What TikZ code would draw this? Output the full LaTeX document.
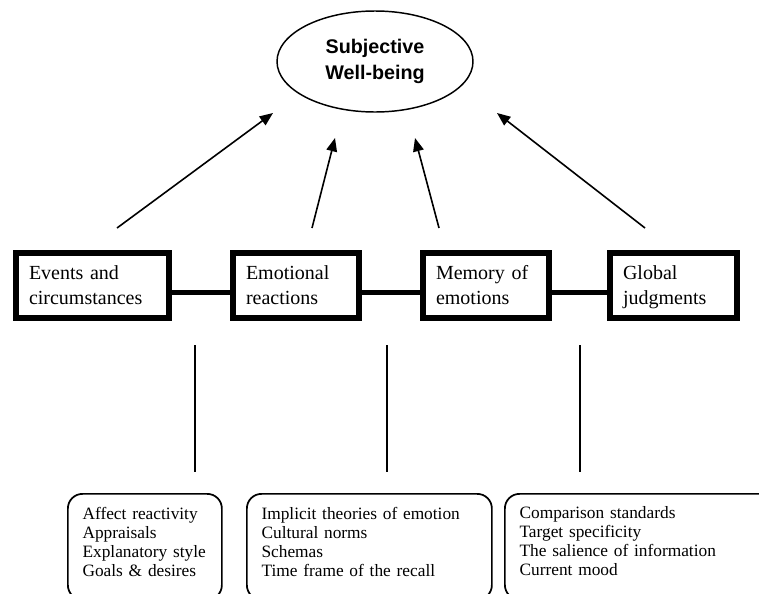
\documentclass[tikz,border=0pt]{standalone}
\usepackage{fontspec}
\setmainfont{Liberation Serif}
\newfontfamily\titlefont{Liberation Sans}
\usetikzlibrary{arrows.meta, shapes.geometric}

\begin{document}
\begin{tikzpicture}[x=0.75pt, y=-0.75pt,
    outcome/.style={draw, ellipse, line width=1.1pt, minimum width=147pt, minimum height=75.75pt,
        inner sep=0pt, align=center, font=\titlefont\bfseries\fontsize{14.8}{20}\selectfont},
    stage/.style={draw, line width=4.5pt, minimum height=48.75pt, inner xsep=9.75pt,
        align=left, font=\fontsize{15}{18.75}\selectfont},
    factors/.style={draw, rounded corners=11pt, line width=1.3pt, anchor=north west,
        inner xsep=11pt, inner ysep=9.75pt, align=left, font=\fontsize{13}{14.25}\selectfont},
    link/.style={line width=4pt},
    drop/.style={line width=1.6pt},
    influence/.style={line width=1.2pt, -{Triangle[length=10pt, width=8pt]}}]

    \useasboundingbox (0,0) rectangle (759,593);
    \clip (0,0) rectangle (759,593);

    % Benessere soggettivo
    \node[outcome] (swb) at (375,61.5) {Subjective\\Well-being};

    % Stadi
    \node[stage, text width=95.25pt] (events) at (92.5,285.5) {Events and\\circumstances};
    \node[stage, text width=75pt] (reactions) at (296,285.5) {Emotional\\reactions};
    \node[stage, text width=75pt] (memory) at (486,285.5) {Memory of\\emotions};
    \node[stage, text width=75.75pt] (judgments) at (673.5,285.5) {Global\\\smash{judgments}};

    % Collegamenti tra gli stadi
    \draw[link] ([yshift=-5pt]events.east) -- ([yshift=-5pt]reactions.west);
    \draw[link] ([yshift=-5pt]reactions.east) -- ([yshift=-5pt]memory.west);
    \draw[link] ([yshift=-5pt]memory.east) -- ([yshift=-5pt]judgments.west);

    % Frecce verso il benessere
    \coordinate (from1) at (117,228);
    \coordinate (to1) at (273,113);
    \coordinate (from2) at (312,228);
    \coordinate (to2) at (335,138);
    \coordinate (from3) at (439,228);
    \coordinate (to3) at (415,138);
    \coordinate (from4) at (645,228);
    \coordinate (to4) at (497,113);
    \draw[influence] (from1) -- (to1);
    \draw[influence] (from2) -- (to2);
    \draw[influence] (from3) -- (to3);
    \draw[influence] (from4) -- (to4);

    % Linee verticali
    \coordinate (top1) at (195,345);
    \coordinate (bot1) at (195,472);
    \coordinate (top2) at (387,345);
    \coordinate (bot2) at (387,472);
    \coordinate (top3) at (580,345);
    \coordinate (bot3) at (580,472);
    \draw[drop] (top1) -- (bot1);
    \draw[drop] (top2) -- (bot2);
    \draw[drop] (top3) -- (bot3);

    % Fattori
    \node[factors, text width=93.5pt] (affect) at (67,493)
        {Affect reactivity\\Appraisals\\Explanatory style\\Goals \& desires\rule[-8pt]{0pt}{8pt}};
    \node[factors, text width=161.75pt] (recall) at (246,493)
        {Implicit theories of emotion\\Cultural norms\\Schemas\\Time frame of the recall\rule[-8pt]{0pt}{8pt}};
    \node[factors, text width=200pt] (judge) at (504,493)
        {Comparison standards\\Target specificity\\The salience of information\\Current mood\rule[-8pt]{0pt}{8pt}};
\end{tikzpicture}
\end{document}
